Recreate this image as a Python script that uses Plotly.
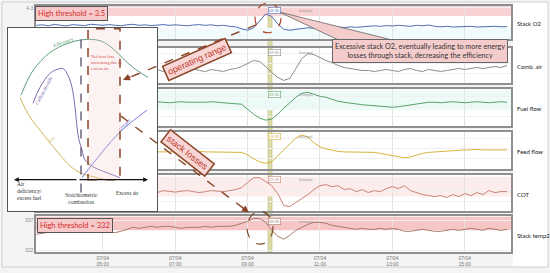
import pandas as pd
import plotly.graph_objects as go

W, H = 550, 273

# time base of the trend panels (10 minute samples)
times = pd.date_range("2021-04-07 03:10", "2021-04-07 16:10", freq="10min")
times_mid = times[19:]
tick_times = pd.date_range("2021-04-07 05:00", "2021-04-07 15:00", freq="2h")
x_range = ["2021-04-07 03:09:18", "2021-04-07 16:16:36"]
cursor = ["2021-04-07 09:33:50", "2021-04-07 09:40:30"]

stack_o2 = [2.55, 2.6, 2.5, 2.65, 2.55, 2.5, 2.62, 2.58, 2.52, 2.66, 2.6,
            2.55, 2.62, 2.58, 2.5, 2.6, 2.65, 2.55, 2.6, 2.52, 2.58, 2.62, 2.55,
            2.6, 2.55, 2.5, 2.58, 2.62, 2.55, 2.6, 2.5, 2.55, 2.45, 2.4,
            2.2, 2.05, 2.3, 3.0, 3.7, 3.45, 2.7, 2.15, 2.05, 2.15, 2.2, 2.3,
            2.25, 2.3, 2.35, 2.3, 2.38, 2.32, 2.4, 2.35, 2.42, 2.45, 2.5, 2.45,
            2.52, 2.48, 2.55, 2.5, 2.45, 2.55, 2.5, 2.58, 2.45, 2.4, 2.45,
            2.38, 2.42, 2.4, 2.45, 2.38, 2.42, 2.4, 2.45, 2.4, 2.42]
comb_air = [13, 14, 12, 13, 14, 12, 13, 15, 13, 12, 14, 13, 12, 14, 15,
            17, 20, 23, 22, 17, 11, 6, 3, 5, 15, 25, 30,
            29, 26, 23, 21, 18, 16, 15, 14, 13, 13, 12, 13,
            14, 13, 12, 14, 15, 13, 12, 14, 13, 12, 13,
            14, 15, 14, 15, 16, 15, 16, 17, 16, 18]
fuel_flow = [24, 24.5, 24, 23.5, 24, 24.5, 24, 24, 23.5, 24, 24.5, 24, 24, 23.5, 23,
             22, 17, 12, 8, 6, 7, 12, 18, 24, 29, 33, 34,
             32, 30, 29, 27, 25, 24, 23, 22, 21.5, 21, 20.5, 20,
             19.5, 19, 19.5, 20.5, 21.5, 22.5, 23.5, 24, 24, 23.5, 24,
             24.5, 24, 23.5, 24, 24.5, 24, 23.5, 24, 24.5, 24]
feed_flow = [17, 17, 17.5, 17, 17, 16.5, 17, 17, 17.5, 17, 17, 17, 16.5, 17, 17,
             16.5, 14, 10, 7, 5.5, 7, 13, 19, 26, 31, 34, 32,
             26, 22, 20, 18.5, 17.5, 17, 17, 17, 17, 17, 16.5, 15.5,
             14.5, 13.5, 12, 11, 12, 14, 15.5, 16.5, 17, 17.5, 18,
             18.5, 19, 19, 19, 19.5, 19, 19, 19.5, 19, 19]
cot = [20, 19, 21, 20, 19.5, 20.5, 21, 20, 19, 20, 21, 20.5, 20, 21, 22,
       24, 29, 34, 34, 30, 26, 18, 6, 5, 9, 13, 17,
       22, 26, 27, 25, 26, 22, 23, 20, 22, 19, 21, 20,
       23, 25, 23, 26, 21, 19, 17, 16, 15, 16, 14,
       17, 15, 18, 16, 19, 17, 21, 19, 20, 20]
stack_temp2 = [330, 330.5, 331, 331.5, 332, 332.5, 332, 331.5, 332, 331.5, 331.5,
               331, 331, 330.8, 331.5, 332.5, 333.5, 333, 333.5, 334, 333.5, 334, 334,
               333.5, 333, 333.5, 333.5, 333.5, 334, 333.5, 334, 334, 334, 334.5,
               335.5, 336.5, 338, 338, 336, 332, 329, 327.5, 329.5, 332, 333.5, 335,
               336, 336, 335.5, 334.5, 334, 333.5, 333, 332.5, 333, 332.5, 332.5, 333,
               332.5, 333, 332.5, 331.5, 331.5, 332, 332.5, 332, 331.5, 331.5, 332,
               332.5, 332, 332.5, 333, 332.5, 332, 333, 332.5, 332, 332.5]

o2_threshold = 3.5
temp_threshold = 332

# schematic combustion diagram (inset), diagram units
eff_x = [13, 25, 42, 59, 75, 92, 105, 115, 125, 140]
eff_y = [117, 142, 160, 169, 173, 172, 164, 154, 145, 135]
co2_x = [25, 32, 42, 49, 55, 60, 64, 67, 69, 71, 74, 77, 85, 99, 112]
co2_y = [109, 125, 139, 143, 144, 137, 125, 105, 85, 72, 62, 52, 45, 39, 34]
co_x = [12, 17, 24, 32, 42, 52, 62, 72, 85, 97]
co_y = [115, 104, 92, 82, 69, 57, 46, 39, 35, 32]
ox_x = [74, 80, 112, 139]
ox_y = [34, 42, 80, 102]


def px(x):
    return x / W


def py(y):
    return 1 - y / H


panel_px = [(5, 38), (47, 83), (89, 126), (132, 169), (175, 212), (217, 253)]
panels = [
    ("Stack O2", times, stack_o2, "#4d6db3", [1.2, 4.5]),
    ("Comb. air", times_mid, comb_air, "#8c8c8c", [0, 36]),
    ("Fuel flow", times_mid, fuel_flow, "#5aa06a", [0, 37]),
    ("Feed flow", times_mid, feed_flow, "#d6b43c", [0, 37]),
    ("COT", times_mid, cot, "#c98474", [0, 37]),
    ("Stack temp2", times, stack_temp2, "#a87c6c", [321, 339]),
]

fig = go.Figure()
shapes = []
annotations = []
brown = "#8a4526"
label_font = "Lato, Liberation Sans"

for k, (name, t, vals, color, yr) in enumerate(panels, start=1):
    sfx = "" if k == 1 else str(k)
    fig.add_trace(go.Scatter(x=t, y=vals, mode="lines", line=dict(color=color, width=1),
                             xaxis="x" + sfx, yaxis="y" + sfx, showlegend=False, hoverinfo="skip"))
    top, bot = panel_px[k - 1]
    yax = dict(domain=[py(bot), py(top)], range=yr, anchor="x" + sfx, showline=True, mirror=True,
               linecolor="#8f8f8f", linewidth=1.5, showgrid=True, gridcolor="#f0f0f0",
               ticks="", tickfont=dict(size=5, color="#8a8a8a", family="Liberation Sans"),
               zeroline=False, showticklabels=False)
    if k == 1:
        yax.update(tickvals=[4.3], ticktext=["4.3"], showticklabels=True)
    elif k == 6:
        yax.update(tickvals=[337, 322], showticklabels=True)
    else:
        yax.update(nticks=4)
    fig.update_layout({
        "xaxis" + sfx: dict(domain=[px(36), px(511)], range=x_range, type="date", anchor="y" + sfx,
                           showline=True, mirror=True, linecolor="#8f8f8f", linewidth=1.5,
                           showgrid=True, gridcolor="#e2e2e2", tickvals=tick_times,
                           ticktext=[f"{v:%d/%m}<br>{v:%H:%M}" for v in tick_times],
                           showticklabels=(k == 6), ticks="",
                           tickfont=dict(size=5, color="#777", family="Liberation Sans"),
                           zeroline=False),
        "yaxis" + sfx: yax,
    })
    annotations.append(dict(x=px(515), y=py((top + bot) / 2 + 1), xref="paper", yref="paper",
                            text=name, showarrow=False, xanchor="left", yanchor="middle",
                            font=dict(size=6, color="#222", family=label_font)))
    annotations.append(dict(x=cursor[0], y=py(top + 5), xref="x" + sfx, yref="paper",
                            text="09:35", showarrow=False, xanchor="left", yanchor="middle",
                            bgcolor="white", bordercolor=color, borderwidth=0.6, borderpad=0.5,
                            font=dict(size=4, color=color, family="Liberation Sans")))
    annotations.append(dict(x=px(297), y=py(top + 5), xref="paper", yref="paper",
                            text="Interpol", showarrow=False, xanchor="left", yanchor="middle",
                            font=dict(size=4, color="#999", family="Liberation Sans")))

# threshold / state bands
bands = [("", "y", o2_threshold, 4.5, "#f9d3d3"), ("", "y", 1.2, 2.3, "#f1fbfb"),
         ("3", "y3", 16, 36, "#ecfaf8"), ("5", "y5", 15, 35, "#fcecec"),
         ("6", "y6", temp_threshold, 339, "#f6c6c6")]
for sfx, yref, y0, y1, col in bands:
    shapes.append(dict(type="rect", xref="x" + sfx, yref=yref, x0=x_range[0], x1=x_range[1],
                       y0=y0, y1=y1, fillcolor=col, line_width=0, layer="below"))

# cursor band
shapes.append(dict(type="rect", xref="x", yref="paper", x0=cursor[0], x1=cursor[1],
                   y0=py(253), y1=py(5), fillcolor="#dcdcaa", line=dict(color="#b9b97a", width=0.6),
                   layer="below"))

# ---- inset diagram ----
fig.update_layout(
    xaxis7=dict(domain=[px(8), px(157)], range=[0, 149], anchor="y7", showline=True, mirror=True,
                linecolor="#555", linewidth=1, showgrid=False, showticklabels=False, ticks="",
                zeroline=False),
    yaxis7=dict(domain=[py(212), py(27)], range=[0, 185], anchor="x7", showline=True, mirror=True,
                linecolor="#555", linewidth=1, showgrid=False, showticklabels=False, ticks="",
                zeroline=False),
)
shapes.append(dict(type="rect", xref="x7", yref="y7", x0=0, x1=149, y0=0, y1=185,
                   fillcolor="white", line_width=0, layer="below"))
shapes.append(dict(type="rect", xref="x7", yref="y7", x0=80, x1=112, y0=32, y1=184,
                   fillcolor="rgba(248,205,205,0.25)", line=dict(color=brown, width=1.5, dash="dash"),
                   layer="above"))
shapes.append(dict(type="line", xref="x7", yref="y7", x0=73, x1=73, y0=19, y1=182,
                   line=dict(color="#4a3f5a", width=1.2, dash="dash"), layer="above"))

for cx, cy, col in [(eff_x, eff_y, "#5f9f78"), (co2_x, co2_y, "#7d6cb0"),
                    (co_x, co_y, "#d2b45a"), (ox_x, ox_y, "#7777d8")]:
    fig.add_trace(go.Scatter(x=cx, y=cy, mode="lines", line=dict(color=col, width=1, shape="spline"),
                             xaxis="x7", yaxis="y7", showlegend=False, hoverinfo="skip"))

for tip, tail in [(6, 70), (140, 70)]:
    annotations.append(dict(x=tip, y=32, ax=tail, ay=32, xref="x7", yref="y7", axref="x7", ayref="y7",
                            text="", showarrow=True, arrowhead=2, arrowsize=0.8, arrowwidth=1.2,
                            arrowcolor="#111", standoff=0))

serif = "Liberation Serif"
inset_texts = [
    (7, 21, "Air<br>deficiency/<br>excess fuel", "left", 5.5, "#333", 0),
    (73, 13, "Stoichiometric<br>combustion", "center", 5.5, "#333", 0),
    (119, 19, "Excess air", "center", 5.5, "#333", 0),
    (81, 150, "Net heat loss<br>increasing due to<br>excess air", "left", 4.5, "#d0504a", 0),
    (55, 170, "Efficiency", "center", 5, "#4f9a6a", -20),
    (36, 122, "Carbon dioxide", "center", 5, "#6f62aa", -62),
    (44, 72, "CO", "center", 4.5, "#b9a040", -40),
    (116, 88, "Oxygen", "center", 4.5, "#6767c8", -45),
]
for tx, ty, txt, anc, size, col, ang in inset_texts:
    annotations.append(dict(x=tx, y=ty, xref="x7", yref="y7", text=txt, showarrow=False,
                            xanchor=anc, yanchor="middle", align=anc, textangle=ang,
                            font=dict(size=size, color=col, family=serif)))

# ---- callouts ----
annotations += [
    dict(x=px(71.5), y=py(13), text="High threshold = 3.5", bgcolor="#f6caca",
         bordercolor="#555", borderwidth=1, borderpad=2,
         font=dict(size=7.5, color="#d42a2a", family=label_font)),
    dict(x=px(74.5), y=py(226), text="High threshold = 332", bgcolor="#f6caca",
         bordercolor="#555", borderwidth=1, borderpad=2,
         font=dict(size=7.5, color="#d42a2a", family=label_font)),
    dict(x=px(197), y=py(59), text="operating range", textangle=-24, bgcolor="#f8d6d6",
         bordercolor=brown, borderwidth=1.5, borderpad=2,
         font=dict(size=9, color="#c0392b", family="Liberation Sans")),
    dict(x=px(187), y=py(153), text="stack losses", textangle=38, bgcolor="#f8d6d6",
         bordercolor=brown, borderwidth=1.5, borderpad=2,
         font=dict(size=9, color="#c0392b", family="Liberation Sans")),
    dict(x=px(420), y=py(50),
         text="Excessive stack O2, eventually leading to more energy<br>losses through stack, decreasing the efficiency",
         bgcolor="#f5cccc", bordercolor="#666", borderwidth=1, borderpad=2,
         font=dict(size=7.2, color="#333", family=label_font)),
]
for a in annotations[-5:]:
    a.update(xref="paper", yref="paper", showarrow=False, xanchor="center", yanchor="middle")

annotations += [
    dict(x=px(123), y=py(79.5), xref="paper", yref="paper", ax=9, ay=-4, text="", showarrow=True,
         arrowhead=2, arrowsize=1, arrowwidth=1.4, arrowcolor=brown, standoff=0),
    dict(x=px(249), y=py(213), xref="paper", yref="paper", ax=-8, ay=-6, text="", showarrow=True,
         arrowhead=2, arrowsize=1, arrowwidth=1.4, arrowcolor=brown, standoff=0),
]

shapes += [
    dict(type="path", xref="paper", yref="paper",
         path=f"M{px(279)},{py(11)} L{px(340)},{py(40)} L{px(395)},{py(40)} Z",
         fillcolor="#f5cccc", line=dict(color="#666", width=0.8), layer="above"),
    dict(type="line", xref="paper", yref="paper", x0=px(256), y0=py(24), x1=px(126), y1=py(78.5),
         line=dict(color=brown, width=1.4, dash="dash"), layer="above"),
    dict(type="line", xref="paper", yref="paper", x0=px(121), y0=py(116), x1=px(245), y1=py(210),
         line=dict(color=brown, width=1.4, dash="dash"), layer="above"),
    dict(type="circle", xref="paper", yref="paper", x0=px(255), x1=px(281), y0=py(2), y1=py(32),
         line=dict(color="#b0452e", width=1.2, dash="dash"), layer="above"),
    dict(type="circle", xref="paper", yref="paper", x0=px(247), x1=px(273), y0=py(212), y1=py(245),
         line=dict(color="#7a4a26", width=1.2, dash="dash"), layer="above"),
    # right label column and outer frame
    dict(type="rect", xref="paper", yref="paper", x0=px(513), x1=px(548), y0=py(268), y1=py(1),
         fillcolor="white", line_width=0, layer="below"),
    dict(type="rect", xref="paper", yref="paper", x0=px(2), x1=px(548), y0=py(268), y1=py(1),
         fillcolor="rgba(0,0,0,0)", line=dict(color="#cfcfcf", width=1), layer="below"),
]

fig.update_layout(width=W, height=H, margin=dict(l=0, r=0, t=0, b=0),
                  paper_bgcolor="#f4f4f4", plot_bgcolor="white",
                  shapes=shapes, annotations=annotations, showlegend=False)

# the page body has a default 8px margin; remove it so the figure fills the window
fig.write_html("out.html", config={"displayModeBar": False},
               post_script="document.body.style.margin='0';document.body.style.overflow='hidden';")
